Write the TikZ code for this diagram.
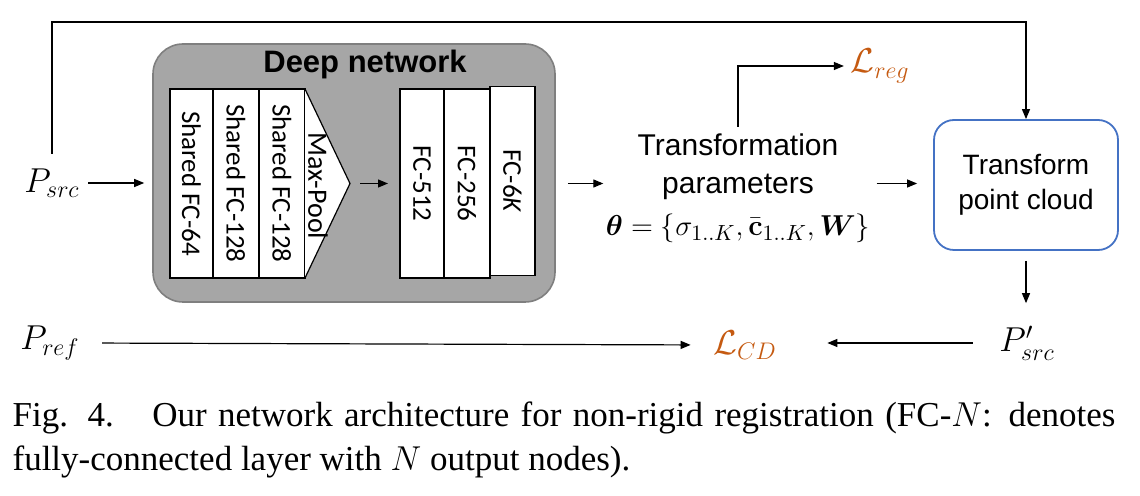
\documentclass[tikz,border=0pt]{standalone}
\usepackage{amsmath,amssymb}
\usepackage[no-math]{fontspec}
\setmainfont{Liberation Serif}
\setsansfont{Liberation Sans}
\newfontfamily\calib{Carlito}
\usetikzlibrary{positioning,arrows.meta,calc}
\definecolor{netgray}{HTML}{A6A6A6}
\definecolor{netedge}{HTML}{7F7F7F}
\definecolor{lossorange}{HTML}{C55A11}
\definecolor{boxblue}{HTML}{4472C4}

\begin{document}
\begin{tikzpicture}[x=0.5pt,y=-0.5pt,>={Triangle[length=5pt,width=4pt]},line width=0.6pt,
  lay/.style={draw,fill=white,outer sep=0pt,inner sep=0pt,minimum height=94.5pt,font=\calib\fontsize{13.5}{16}\selectfont},
  lbl/.style={font=\sffamily\fontsize{15}{19}\selectfont,align=center,inner sep=0pt},
  mth/.style={font=\fontsize{17}{20}\selectfont,inner sep=1pt},
  loss/.style={mth,text=lossorange},
  captxt/.style={font=\fontsize{17.5}{21}\selectfont,anchor=base west,inner sep=0pt}]
  \useasboundingbox (0,0) rectangle (1140,496);
  % deep network block
  \node[draw=netedge,fill=netgray,rounded corners=15pt,line width=0.8pt,minimum width=201pt,minimum height=129pt] (deep) at (354,173) {};
  \node[font=\sffamily\bfseries\fontsize{15.5}{18}\selectfont] (dtitle) at (365,64) {Deep network};
  \node[lay,minimum width=21.5pt] (s1) at (191.5,183.5) {\rotatebox{-90}{Shared FC-64}};
  \node[lay,minimum width=23pt,right=0pt of s1] (s2) {\rotatebox{-90}{Shared FC-128}};
  \node[lay,minimum width=23pt,right=0pt of s2] (s3) {\rotatebox{-90}{Shared FC-128}};
  \coordinate (tip) at (350,183.5);
  \draw[fill=white] (s3.north east) -- (tip) -- (s3.south east);
  \node[font=\calib\fontsize{14}{16}\selectfont,inner sep=0pt] (mp) at (318,186) {\rotatebox{-90}{Max-Pool}};
  \node[lay,minimum width=22pt] (f1) at (422,183.5) {\rotatebox{-90}{FC-512}};
  \node[lay,minimum width=23pt,right=0pt of f1] (f2) {\rotatebox{-90}{FC-256}};
  \node[lay,minimum width=22.5pt] (f3) at (512.5,181) {\rotatebox{-90}{FC-6\textit{K}}};
  % parameters and transform
  \node[lbl] (params) at (738,188) {Transformation\\parameters\\[2pt]
    $\boldsymbol{\theta}=\{\sigma_{1..K},\bar{\mathbf{c}}_{1..K},\boldsymbol{W}\}$};
  \node[draw=boxblue,line width=0.9pt,rounded corners=10pt,minimum width=92pt,minimum height=65pt,
    lbl,font=\sffamily\fontsize{14}{17.5}\selectfont] (tpc) at (1026,185) {Transform\\point cloud};
  % inputs, outputs, losses
  \node[mth] (psrc) at (52,183) {$P_{src}$};
  \node[mth] (pref) at (50,343) {$P_{ref}$};
  \node[mth] (pprime) at (1027,343) {$P'_{src}$};
  \node[loss] (lcd) at (745,345) {$\mathcal{L}_{CD}$};
  \node[loss] (lreg) at (880,66) {$\mathcal{L}_{reg}$};
  \coordinate (loop) at (500,22);
  \draw[->,shorten <=3pt,shorten >=4pt] (psrc.east) -- (psrc.east -| deep.west);
  \draw[->,shorten <=5pt,shorten >=6pt] (tip) -- (tip -| f1.west);
  \draw[->,shorten <=6pt,shorten >=1pt] (deep.east |- tip) -- (params.west |- tip);
  \draw[->,shorten <=3pt,shorten >=8pt] (params.east |- tip) -- (tpc.west |- tip);
  \draw[->,shorten <=6pt] (psrc.north) |- (loop) -| (tpc.north);
  \draw[->,shorten <=3pt,shorten >=2pt] (params.north) |- (lreg.west);
  \draw[->,shorten <=5pt,shorten >=10pt] (tpc.south) -- (tpc.south |- pprime.north);
  \draw[->,shorten <=12pt,shorten >=24pt] (pprime.west) -- (pprime.west -| lcd.east);
  \draw[->,shorten <=10pt,shorten >=10pt] (pref.east) -- (lcd.west);
  % caption
  \node[captxt] (cap1) at (12,427) {\makebox[551.5pt][s]{Fig. 4.\hspace{1.1em}Our network architecture for non-rigid registration (FC-$N$: denotes}};
  \node[captxt] (cap2) at (12,470) {fully-connected layer with $N$ output nodes).};
\end{tikzpicture}
\end{document}
